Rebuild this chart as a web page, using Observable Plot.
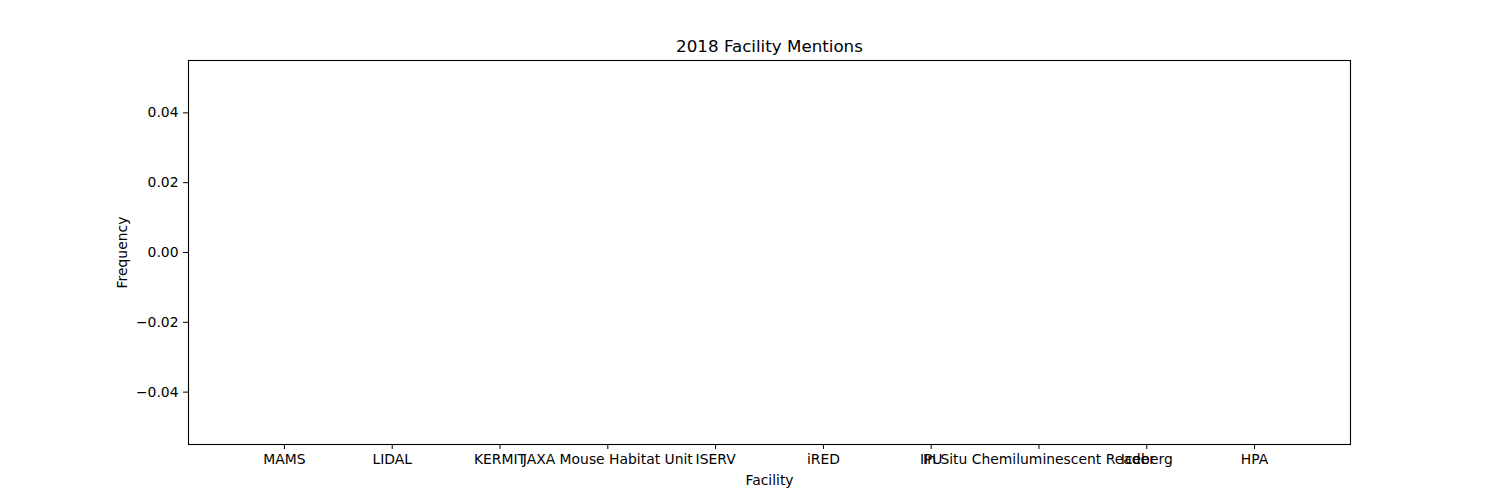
<!DOCTYPE html>
<html>
<head>
<meta charset="utf-8">
<script src="https://cdn.jsdelivr.net/npm/d3@7"></script>
<script src="https://cdn.jsdelivr.net/npm/@observablehq/plot@0.6"></script>
<style>
  html, body { margin: 0; padding: 0; background: #fff; }
</style>
</head>
<body>
<div id="chart"></div>
<script>
const title = "2018 Facility Mentions";
const xLabel = "Facility";
const yLabel = "Frequency";
const facilities = ["MAMS", "LIDAL", "KERMIT", "JAXA Mouse Habitat Unit", "ISERV", "iRED", "IPU", "In Situ Chemiluminescent Reader", "Iceberg", "HPA"];
const mentions = [0, 0, 0, 0, 0, 0, 0, 0, 0, 0];
const yTicks = [-0.04, -0.02, 0.00, 0.02, 0.04];

const data = facilities.map((f, i) => ({facility: f, index: i, value: mentions[i]}));

const chart = Plot.plot({
  width: 1500,
  height: 500,
  marginLeft: 188,
  marginRight: 150,
  marginTop: 60,
  marginBottom: 56,
  style: {fontFamily: "DejaVu Sans, sans-serif", fontSize: "13.9px", color: "#000", background: "#fff"},
  x: {type: "linear", domain: [-0.89, 9.89]},
  y: {domain: [-0.055, 0.055]},
  marks: [
    Plot.rectY(data, {x1: d => d.index - 0.4, x2: d => d.index + 0.4, y: "value", fill: "#1f77b4"}),
    Plot.axisX({ticks: facilities.map((_, i) => i), tickFormat: i => facilities[i], tickSize: 5, tickPadding: 5, label: null, fontSize: 13.9}),
    Plot.axisY({ticks: yTicks, tickFormat: d3.format(".2f"), tickSize: 5, tickPadding: 5, label: null, fontSize: 13.9}),
    Plot.frame({stroke: "#000", strokeWidth: 1.1}),
    Plot.text([title], {frameAnchor: "top", dy: -14, lineAnchor: "middle", fontSize: 16.7, fill: "#000"}),
    Plot.text([xLabel], {frameAnchor: "bottom", dy: 36, lineAnchor: "middle", fontSize: 13.9, fill: "#000"}),
    Plot.text([yLabel], {frameAnchor: "left", dx: -66, rotate: -90, textAnchor: "middle", lineAnchor: "middle", fontSize: 13.9, fill: "#000"})
  ]
});
document.getElementById("chart").appendChild(chart);
</script>
</body>
</html>
